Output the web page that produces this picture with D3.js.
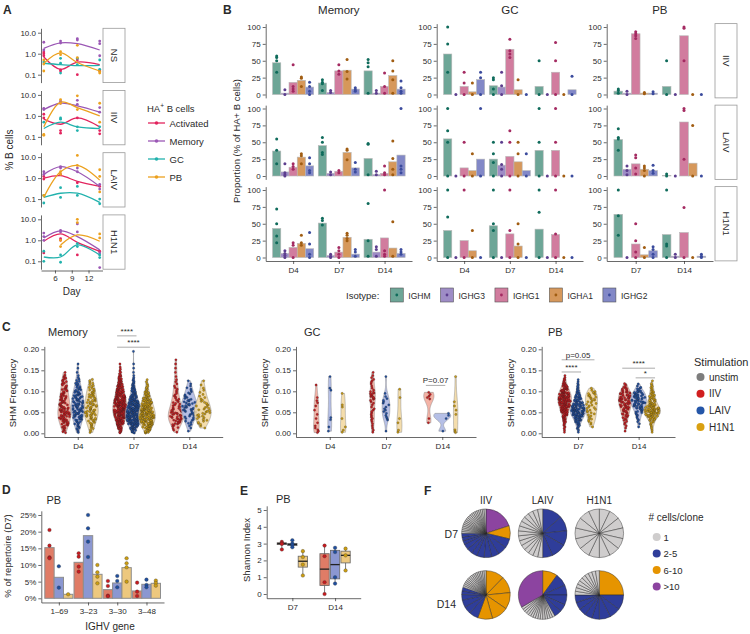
<!DOCTYPE html>
<meta charset="utf-8">
<script src="https://d3js.org/d3.v7.min.js"></script>
<style>
  body { margin: 0; background: #fff; }
</style>
<body>
<script>
// ---------------- data: panel A ----------------
const aFacets = ["NS", "IIV", "LAIV", "H1N1"];
const aDays = [4, 7, 10, 14];
const aCells = ["Activated", "Memory", "GC", "PB"];
// smoothed trend, facet -> cell -> day
const aTrend = [
  [[0.7, 0.18, 0.4, 0.3], [1.8, 3.3, 3.0, 1.5], [0.35, 0.3, 0.27, 0.28], [0.35, 1.1, 0.38, 0.15]],
  [[0.7, 0.4, 0.8, 0.3], [2.0, 4.0, 3.0, 1.5], [0.25, 0.5, 0.3, 0.25], [0.3, 4.5, 2.5, 1.0]],
  [[1.0, 1.3, 0.7, 0.4], [1.5, 3.5, 2.0, 0.4], [0.12, 0.19, 0.19, 0.07], [0.12, 2.0, 4.0, 0.8]],
  [[0.9, 2.0, 0.8, 0.3], [1.3, 2.8, 1.5, 0.35], [0.16, 0.16, 0.6, 0.2], [null, 0.6, 1.8, 0.9]]
];
// replicate points, facet -> cell -> day -> values
const aPoints = [
  [[[1.2, 1.0, 0.8], [0.17, 0.15], [0.1, 0.5], [0.15]],
   [[3.5, 1.5], [4, 3.2], [5.2, 4.5], [4, 3, 0.8]],
   [[0.4], [0.6, 0.12, 0.35], [0.6, 0.3], [0.5, 0.18]],
   [[0.15, 0.32, 0.5], [1.25, 0.9], [0.65, 2.5], [0.14, 0.12]]],
  [[[1.2, 0.8], [0.2, 0.15], [0.8], [0.2, 0.14]],
   [[2.3, 2.0], [5, 4], [5.5, 3.5], [1.5, 2.5]],
   [[0.5], [0.8, 0.7], [0.3, 0.2], [0.3]],
   [[0.12, 0.13], [6, 4], [9, 2], [4, 0.5]]],
  [[[1.2, 0.9], [1.5], [0.6], [0.4]],
   [[2.0, 1.5], [3.5, 3.0], [3, 2], [0.5, 0.3]],
   [[0.15, 0.065], [0.35, 0.12], [0.4, 0.15], [0.1, 0.06]],
   [[0.15], [2.0, 1.5], [12, 4], [2.5, 1.2, 0.22]]],
  [[[0.25], [1.2, 1.0], [0.2], [0.3]],
   [[2.2, 1.5, 1.0], [3, 2.5], [6, 2.5], [0.25, 0.05]],
   [[0.3, 0.1], [0.09, 0.2], [0.5, 0.7], [0.2, 0.15]],
   [[], [1.0, 0.5], [10, 7], [2, 1.3]]]
];

// ---------------- data: panel B ----------------
const bTypes = ["Memory", "GC", "PB"];
const bRows = ["IIV", "LAIV", "H1N1"];
const bDays = [["D4", "D7", "D14"], ["D4", "D7", "D14"], ["D7", "D14"]];
const isotypes = ["IGHM", "IGHG3", "IGHG1", "IGHA1", "IGHG2"];
// bar heights, row -> day -> isotype
const memBars = [
  [[47, 2, 18, 21, 11], [17, 3, 35, 36, 8], [35, 2, 12, 28, 8]],
  [[37, 6, 13, 28, 15], [45, 4, 7, 35, 12], [26, 2, 4, 21, 31]],
  [[43, 6, 15, 21, 13], [51, 3, 8, 30, 5], [27, 8, 29, 14, 6]]
];
const memDots = [
  [[[57, 55, 50, 33], [7, 0], [44, 12, 8, 5], [26, 24, 12], [18, 12, 5, 0]],
   [[22, 18, 16, 6], [6, 3], [44, 35, 30], [52, 34, 23], [10, 7, 5]],
   [[52, 47, 41, 2], [6, 2], [32, 12, 2], [50, 35, 22, 2], [20, 10, 5, 2]]],
  [[[55, 38, 18], [18, 5, 2, 0], [18, 14, 10], [33, 30, 18], [27, 18, 8, 5]],
   [[57, 50, 35, 32], [6, 2], [8, 5], [40, 38, 24], [20, 10, 6]],
   [[48, 47, 2], [7, 2], [15, 5, 2], [52, 26, 10, 2], [100, 15, 10, 5]]],
  [[[72, 50, 32, 22], [10, 6, 3, 0], [22, 18, 0], [33, 22, 18], [37, 20, 5, 0]],
   [[58, 55, 48], [5, 2, 0], [15, 10, 5, 0], [36, 33, 28, 25], [12, 8, 2]],
   [[80, 25, 2], [16, 12, 2], [100, 10, 5, 2], [53, 2], [12, 8, 5]]]
];
const gcBars = [
  [[60, 0, 12, 4, 22], [13, 11, 67, 7, 0], [12, 0, 33, 0, 7]],
  [[55, 0, 12, 8, 25], [25, 16, 29, 21, 8], [38, 0, 38, 0, 0]],
  [[40, 0, 25, 10, 0], [47, 0, 35, 17, 0], [42, 0, 34, 0, 0]]
];
const gcDots = [
  [[[100, 75, 33], [0], [33, 17, 0], [17, 0], [33, 25, 0]],
   [[25, 22, 8, 0], [33, 13, 0], [82, 65, 60, 55], [22, 0], [0]],
   [[50, 0], [0], [77, 50, 0], [0], [27, 0]]],
  [[[100, 67, 50, 0], [0], [50, 0], [33, 0], [100, 0]],
   [[50, 33, 20, 0], [50, 17, 10, 0], [67, 50, 0], [50, 33, 0], [33, 0]],
   [[100, 50, 0], [0], [100, 50, 0], [0], [0]]],
  [[[100, 60, 0], [0], [100, 0], [40, 0], [0]],
   [[100, 50, 40, 0], [0], [100, 40, 0], [50, 20, 0], [0]],
   [[100, 67, 0], [0], [100, 35, 0], [0], [0]]]
];
const pbBars = [
  [[5, 2, 90, 2, 2], [12, 0, 87, 0, 0]],
  [[54, 10, 18, 10, 8], [1, 0, 80, 19, 0]],
  [[64, 0, 20, 4, 10], [34, 2, 37, 0, 2]]
];
const pbDots = [
  [[[8, 6, 2], [5, 0], [93, 90, 87, 83], [3, 1], [4, 1]],
   [[50, 0], [0], [100, 98, 50], [0], [0]]],
  [[[70, 57, 55, 38], [15, 8, 2], [31, 27, 12, 3], [15, 12, 8, 0], [16, 8, 4]],
   [[3, 0], [0], [100, 97, 25], [75, 0], [0]]],
  [[[100, 62, 33], [0], [50, 25, 8, 0], [15, 0], [16, 12, 5, 0]],
   [[100, 20, 17, 0], [5, 0], [74, 0], [0], [5, 2, 0]]]
];

// ---------------- data: panel C (cells per 0.01 SHM bin, starting at 0) ----------------
const cStims = ["IIV", "LAIV", "H1N1"];
const cMemoryBins = [
  [[4, 6, 9, 11, 12, 12, 10, 9, 8, 7, 6, 5, 5, 4, 1],
   [3, 5, 7, 9, 11, 12, 12, 11, 10, 9, 7, 5, 4, 2, 1, 1, 1],
   [3, 4, 6, 8, 10, 10, 9, 8, 7, 7, 5, 4, 3]],
  [[6, 12, 20, 28, 34, 38, 36, 32, 28, 22, 18, 14, 10, 6, 3, 2, 1],
   [8, 18, 28, 34, 36, 34, 28, 22, 16, 12, 8, 6, 4, 2, 1, 1, 1, 0, 0, 1],
   [10, 16, 22, 26, 26, 24, 20, 16, 12, 8, 5, 3, 2]],
  [[2, 4, 8, 10, 10, 8, 6, 5, 4, 3, 3, 2, 2, 1, 1, 1, 1, 1],
   [1, 2, 4, 5, 6, 8, 8, 7, 5, 4, 3, 2, 1],
   [0, 2, 4, 5, 6, 6, 5, 4, 3, 2, 2, 1, 1]]
];
const cGcBins = [
  [[3, 2, 1, 1, 1, 1, 1, 2, 1, 0, 0, 1],
   [1, 1, 0, 2, 0, 0, 0, 0, 0, 0, 2, 0, 0, 1],
   [2, 1, 0, 1, 0, 0, 2, 0, 0, 1]],
  [[2, 2, 2, 3, 3, 3, 2, 3, 6, 6, 2, 2, 3, 2, 1],
   [1, 0, 0, 3, 2, 3, 2, 3, 2, 1, 0, 0, 0, 1],
   [2, 0, 1, 1, 0, 0, 0, 0, 1, 0, 1]],
  [[0, 0, 1, 1, 0, 0, 0, 0, 3, 2],
   [1, 0, 0, 1, 2],
   [3, 0, 0, 0, 1, 1, 1, 1, 0, 0, 0, 0, 0, 1]]
];
const cPbBins = [
  [[2, 3, 5, 8, 12, 18, 24, 28, 30, 26, 18, 10, 5, 2],
   [2, 4, 8, 14, 22, 26, 20, 14, 10, 6, 4, 3, 2],
   [0, 1, 3, 4, 4, 5, 5, 5, 6, 6, 2]],
  [[1, 2, 3, 5, 7, 9, 11, 13, 14, 12, 7, 3],
   [0, 1, 2, 3, 5, 8, 12, 14, 14, 12, 6, 2],
   [2, 3, 5, 10, 20, 24, 16, 10, 8, 6, 4, 3, 1]]
];
// significance: panel, day, from stim, to stim, SHM level, label
const cSig = [
  [0, "D7", 0, 1, 0.232, "****"],
  [0, "D7", 0, 2, 0.205, "****"],
  [1, "D14", 0, 1, 0.114, "P=0.07"],
  [2, "D7", 0, 1, 0.146, "****"],
  [2, "D7", 0, 2, 0.175, "p=0.05"],
  [2, "D14", 0, 2, 0.155, "****"],
  [2, "D14", 1, 2, 0.132, "*"]
];
const stimNames = ["unstim", "IIV", "LAIV", "H1N1"];

// ---------------- data: panel D ----------------
const dGenes = ["1–69", "3–23", "3–30", "3–48"];
const dBars = [[15.2, 6.3, 1.2], [10.8, 18.8, 7.2], [2.6, 4.6, 9.2], [2.2, 4.2, 4.5]];
const dDots = [
  [[20.5, 15.8, 12.3, 12.0], [9.6, 3.2], [1.2]],
  [[13.5, 12.5, 9.5, 8.0], [25, 21, 17, 12.4], [10, 7.8, 6.5, 4.5]],
  [[5.2, 3.7, 0.8, 0.6], [6.7, 5.2, 3.3], [12, 10.5, 9.3, 5.0]],
  [[4.7, 2.0, 0.7], [5.6, 4.0, 3.3], [5.3, 4.6, 3.8]]
];

// ---------------- data: panel E ----------------
const eDays = ["D7", "D14"];
// [whisker low, q1, median, q3, whisker high]
const eBoxes = [
  [[2.65, 2.94, 3.0, 3.05, 3.1], [2.78, 2.88, 2.95, 3.0, 3.2], [1.1, 1.6, 1.95, 2.25, 2.55]],
  [[0, 0.5, 1.48, 2.4, 2.88], [0.62, 0.9, 1.75, 2.6, 2.75], [1.4, 1.85, 2.3, 2.55, 2.7]]
];
const eDots = [
  [[3.1, 3.02, 2.98, 2.65], [3.2, 3.0, 2.9, 2.78], [2.55, 2.2, 1.75, 1.1]],
  [[2.88, 2.25, 0.7, 0], [2.75, 2.5, 1.0, 0.62], [2.7, 2.3, 1.4]]
];

// ---------------- data: panel F (clone sizes, clockwise from 12 o'clock) ----------------
const fStims = ["IIV", "LAIV", "H1N1"];
const fDays = ["D7", "D14"];
const fClones = [
  [[16, 7, 5, 5, 4, 4, 4, 3, 3, 3, 2, 2, 2, 1, 1, 1, 1, 1, 1, 1, 1, 1, 1, 1, 1, 1, 1, 1, 1, 1, 1, 1, 1],
   [4, 3, 3, 3, 2, 1, 1, 1, 1, 1, 1, 1, 1, 1, 1, 1, 1, 1, 1, 1],
   [1, 1, 1, 1, 1, 1, 1, 1, 1, 1, 1, 1, 1, 1]],
  [[10, 9, 9, 9, 8, 5, 4, 4, 3, 2, 2, 1, 1, 1, 1, 1, 1, 1, 1, 1, 1, 1, 1, 1, 1, 1, 1],
   [6, 5, 4, 4, 3, 3, 1, 1, 1, 1, 1, 1, 1, 1, 1, 1, 1, 1, 1, 1, 1, 20],
   [10, 4, 3, 3, 2, 2, 2, 2, 2, 1, 1, 1, 1, 1, 1, 1, 1, 1, 1]]
];
const cloneBins = ["1", "2-5", "6-10", ">10"];

// ---------------- styles ----------------
const ink = "#2a2a2a";
const aColors = ["#e2245e", "#9b58b5", "#22b2ad", "#eca11f"];
const isoFill = ["#6da697", "#9e8cc6", "#d17c9e", "#d6985b", "#8288c7"];
const isoDot = ["#0f6b5b", "#5c3e8e", "#a42a61", "#a15d12", "#3b4b9d"];
const stimFill = ["#f2a697", "#a8b4e2", "#f2d79d"];
const stimPt = ["#c71b1f", "#1f4f9f", "#cb9d12"];
const stimBar = ["#e07c66", "#8b97d1", "#edc87e"];
const legendStim = ["#7d7d7d", "#d11f1f", "#2456a8", "#d9a011"];
const cloneCol = ["#cfcdcd", "#2f3d9a", "#e69400", "#8c44a0"];

const svg = d3.select("body").append("svg")
  .attr("width", 750).attr("height", 634)
  .style("font-family", "'Liberation Sans', Arial, Helvetica, sans-serif");

function txt(g, x, y, s, size, opt) {
  opt = opt || {};
  const t = g.append("text").attr("x", x).attr("y", y).text(s)
    .attr("font-size", size).attr("fill", opt.fill || ink)
    .attr("text-anchor", opt.anchor || "start");
  if (opt.weight) t.attr("font-weight", opt.weight);
  if (opt.mid) t.attr("dominant-baseline", "central");
  if (opt.rotate) t.attr("transform", `rotate(${opt.rotate},${x},${y})`);
  return t;
}
function axisStyle(g, fs) {
  g.attr("font-family", null).attr("font-size", fs || 8);
  g.select(".domain").attr("stroke", ink).attr("stroke-width", 0.7);
  g.selectAll(".tick line").attr("stroke", ink).attr("stroke-width", 0.7);
  g.selectAll(".tick text").attr("fill", ink);
}

// panel letters
txt(svg, 3, 14, "A", 12, { weight: "bold" });
txt(svg, 223, 14, "B", 12, { weight: "bold" });
txt(svg, 2, 331, "C", 12, { weight: "bold" });
txt(svg, 2, 494, "D", 12, { weight: "bold" });
txt(svg, 240, 495, "E", 12, { weight: "bold" });
txt(svg, 424, 495, "F", 12, { weight: "bold" });

// ================= Panel A =================
const aX = d3.scaleLinear([3.5, 14.5], [41, 102.5]);
aFacets.forEach((f, i) => {
  const top = 28.3 + i * 62.2, bot = top + 54.3;
  const y = d3.scaleLog([0.042, 16.2], [bot, top]);
  const g = svg.append("g");
  g.append("g").attr("transform", "translate(41,0)")
    .call(d3.axisLeft(y).tickValues([0.1, 1, 10]).tickFormat(d3.format(".1f"))
      .tickSize(3).tickSizeOuter(0).tickPadding(2))
    .call(axisStyle);
  g.append("rect").attr("x", 103).attr("y", top).attr("width", 22).attr("height", bot - top)
    .attr("fill", "#fff").attr("stroke", "#9a9a9a").attr("stroke-width", 0.8);
  txt(g, 114, (top + bot) / 2, f, 9.5, { anchor: "middle", mid: true, rotate: 90 });
  aCells.forEach((c, k) => {
    const pts = aDays.map((d, j) => [d, aTrend[i][k][j]]).filter(p => p[1] != null);
    g.append("path")
      .attr("d", d3.line().x(p => aX(p[0])).y(p => y(p[1])).curve(d3.curveCatmullRom)(pts))
      .attr("fill", "none").attr("stroke", aColors[k]).attr("stroke-width", 1.3);
    aPoints[i][k].forEach((vals, j) => vals.forEach(v => {
      g.append("circle").attr("cx", aX(aDays[j])).attr("cy", y(v)).attr("r", 1.4).attr("fill", aColors[k]);
    }));
  });
});
svg.append("g").attr("transform", "translate(0,270.5)")
  .call(d3.axisBottom(aX).tickValues([6, 9, 12]).tickSize(3).tickSizeOuter(0).tickPadding(2))
  .call(axisStyle);
txt(svg, 71.7, 295, "Day", 10, { anchor: "middle" });
txt(svg, 9, 150, "% B cells", 10, { anchor: "middle", mid: true, rotate: -90 });
// legend A
const aLeg = svg.append("g");
aLeg.append("text").attr("x", 147).attr("y", 111.5).attr("font-size", 9.5).attr("fill", ink)
  .call(t => { t.append("tspan").text("HA"); t.append("tspan").text("+").attr("font-size", 6.5).attr("dy", -3.5);
               t.append("tspan").text(" B cells").attr("dy", 3.5); });
aCells.forEach((c, k) => {
  const yy = 123 + k * 18;
  aLeg.append("line").attr("x1", 148).attr("x2", 165).attr("y1", yy).attr("y2", yy)
    .attr("stroke", aColors[k]).attr("stroke-width", 1.3);
  aLeg.append("circle").attr("cx", 156.5).attr("cy", yy).attr("r", 1.8).attr("fill", aColors[k]);
  txt(aLeg, 169.5, yy, c, 9.5, { mid: true });
});

// ================= Panel B =================
const bXRanges = [[265.7, 412], [436.7, 583], [606.7, 713]];
const bZero = [94.5, 176, 257.5];
const bBarsAll = [memBars, gcBars, pbBars];
const bDotsAll = [memDots, gcDots, pbDots];
bTypes.forEach((t, c) => {
  const xr = bXRanges[c];
  const x = d3.scalePoint(bDays[c], xr).padding(0.6);
  const bw = x.step() * 0.9 / 5;
  txt(svg, (xr[0] + xr[1]) / 2, 14, t, 11.5, { anchor: "middle" });
  bRows.forEach((r, i) => {
    const y = d3.scaleLinear([0, 100], [bZero[i], bZero[i] - 67.5]);
    const yAx = d3.scaleLinear([-5, 105], [y(-5), y(105)]);
    const g = svg.append("g");
    g.append("g").attr("transform", `translate(${xr[0]},0)`)
      .call(d3.axisLeft(yAx).tickValues([0, 25, 50, 75, 100]).tickSize(3).tickSizeOuter(0).tickPadding(2))
      .call(axisStyle);
    bDays[c].forEach((d, j) => {
      isotypes.forEach((iso, k) => {
        const cx = x(d) + (k - 2) * bw;
        const v = bBarsAll[c][i][j][k];
        g.append("rect").attr("x", cx - bw / 2).attr("width", bw)
          .attr("y", y(v)).attr("height", y(0) - y(v))
          .attr("fill", isoFill[k]).attr("stroke", "#b8b8b8").attr("stroke-width", 0.6);
        bDotsAll[c][i][j][k].forEach(v2 => {
          g.append("circle").attr("cx", cx).attr("cy", y(v2)).attr("r", 1.5).attr("fill", isoDot[k]);
        });
      });
    });
    if (c === 2) {
      g.append("rect").attr("x", 715).attr("y", y(105)).attr("width", 22).attr("height", y(-5) - y(105))
        .attr("fill", "#fff").attr("stroke", "#9a9a9a").attr("stroke-width", 0.8);
      txt(g, 726, (y(105) + y(-5)) / 2, r, 9.5, { anchor: "middle", mid: true, rotate: 90 });
    }
  });
  svg.append("g").attr("transform", "translate(0,261)")
    .call(d3.axisBottom(x).tickSize(3).tickSizeOuter(0).tickPadding(3))
    .call(axisStyle);
});
txt(svg, 236, 141, "Proportion (% of HA+ B cells)", 9.5, { anchor: "middle", mid: true, rotate: -90 });
// legend B
{
  const g = svg.append("g");
  const lbl = txt(g, 346, 298.5, "Isotype:", 9.5);
  let cx = 346 + lbl.node().getComputedTextLength() + 11;
  isotypes.forEach((iso, k) => {
    g.append("rect").attr("x", cx).attr("y", 288).attr("width", 13).attr("height", 14)
      .attr("fill", isoFill[k]).attr("stroke", "#555").attr("stroke-width", 0.6);
    g.append("circle").attr("cx", cx + 6.5).attr("cy", 295).attr("r", 1.4).attr("fill", isoDot[k]);
    const t = txt(g, cx + 18, 298.5, iso, 8.5);
    cx += 18 + t.node().getComputedTextLength() + 10;
  });
}

// ================= Panel C =================
const cY = d3.scaleLinear([0, 0.2], [433.3, 349.3]);
const cYAx = d3.scaleLinear([-0.009, 0.207], [cY(-0.009), cY(0.207)]);
const cLayout = [
  { name: "Memory", days: ["D4", "D7", "D14"], bins: cMemoryBins, x0: 44.3, x1: 222.7, tx: 48, ytx: 12 },
  { name: "GC", days: ["D4", "D7", "D14"], bins: cGcBins, x0: 296, x1: 476, tx: 304, ytx: 264 },
  { name: "PB", days: ["D7", "D14"], bins: cPbBins, x0: 541.7, x1: 675, tx: 548, ytx: 510 }
];
function binValues(bins) {
  const v = [];
  bins.forEach((n, b) => { for (let i = 0; i < n; i++) v.push(0.01 * b + 0.01 * (i + 0.5) / n); });
  return v;
}
function bwNrd0(v) {
  const s = v.slice().sort(d3.ascending);
  const sd = d3.deviation(s) || 0.01;
  const iqr = d3.quantile(s, 0.75) - d3.quantile(s, 0.25);
  let lo = Math.min(sd, iqr / 1.34);
  if (!(lo > 0)) lo = sd;
  return 0.9 * lo * Math.pow(s.length, -0.2);
}
function density(v, bw, t) {
  let s = 0;
  for (const x of v) { const z = (t - x) / bw; s += Math.exp(-0.5 * z * z); }
  return s / (v.length * bw * Math.sqrt(2 * Math.PI));
}
// fixed hash used to spread points sideways inside a violin
function spread(n, k) {
  const s = Math.sin(n * 12.9898 + k * 78.233) * 43758.5453;
  return s - Math.floor(s);
}
const dodge = 13.4, maxHalf = 8.5;
cLayout.forEach((p, pi) => {
  const x = d3.scalePoint(p.days, [p.x0, p.x1]).padding(0.6);
  const g = svg.append("g");
  txt(g, p.tx, 336, p.name, 11);
  txt(g, p.ytx, 393, "SHM Frequency", 9.5, { anchor: "middle", mid: true, rotate: -90 });
  g.append("g").attr("transform", `translate(${p.x0},0)`)
    .call(d3.axisLeft(cYAx).tickValues([0, 0.05, 0.1, 0.15, 0.2]).tickFormat(d3.format(".2f"))
      .tickSize(3).tickSizeOuter(0).tickPadding(2))
    .call(axisStyle);
  g.append("g").attr("transform", "translate(0,437)")
    .call(d3.axisBottom(x).tickSize(3).tickSizeOuter(0).tickPadding(3))
    .call(axisStyle);
  const vs = p.bins.map(day => day.map(b => {
    const v = binValues(b);
    const o = { v, bw: bwNrd0(v), lo: d3.min(v), hi: d3.max(v) };
    o.grid = d3.range(65).map(i => o.lo + (o.hi - o.lo) * i / 64);
    o.d = o.grid.map(t => density(v, o.bw, t));
    return o;
  }));
  const maxD = d3.max(vs.flat(), o => d3.max(o.d));
  vs.forEach((day, j) => day.forEach((o, k) => {
    const cx = x(p.days[j]) + (k - 1) * dodge;
    const hw = d => maxHalf * d / maxD;
    const pts = o.grid.map((t, i) => [t, hw(o.d[i])]);
    g.append("path")
      .attr("d", d3.area().y(q => cY(q[0])).x0(q => cx - q[1]).x1(q => cx + q[1])(pts))
      .attr("fill", stimFill[k]).attr("fill-opacity", 0.85)
      .attr("stroke", "#8a8a8a").attr("stroke-width", 0.5);
    o.v.forEach((val, n) => {
      const u = spread(n + 1, j * 3 + k + pi * 10);
      const px = cx + (2 * u - 1) * 0.85 * hw(density(o.v, o.bw, val));
      g.append("circle").attr("cx", px).attr("cy", cY(val)).attr("r", 1.15)
        .attr("fill", stimPt[k]).attr("stroke", "#222").attr("stroke-width", 0.25);
    });
  }));
  cSig.filter(s => s[0] === pi).forEach(s => {
    const xa = x(s[1]) + (s[2] - 1) * dodge - 3, xb = x(s[1]) + (s[3] - 1) * dodge + 3;
    g.append("line").attr("x1", xa).attr("x2", xb).attr("y1", cY(s[4])).attr("y2", cY(s[4]))
      .attr("stroke", "#888").attr("stroke-width", 0.7);
    txt(g, (xa + xb) / 2, cY(s[4]) - 2, s[5], 8, { anchor: "middle" });
  });
});
// stimulation legend
{
  const g = svg.append("g");
  txt(g, 694, 366, "Stimulation", 11);
  stimNames.forEach((s, k) => {
    const yy = 377 + k * 16.7;
    g.append("circle").attr("cx", 700.5).attr("cy", yy).attr("r", 4).attr("fill", legendStim[k]);
    txt(g, 709, yy, s, 10, { mid: true });
  });
}

// ================= Panel D =================
{
  const g = svg.append("g");
  const x = d3.scalePoint(dGenes, [41.3, 164]).padding(0.6);
  const y = d3.scaleLinear([0, 25], [598.3, 515]);
  const yAx = d3.scaleLinear([-1.25, 26.25], [y(-1.25), y(26.25)]);
  const bw = x.step() * 0.32;
  txt(g, 46.5, 504, "PB", 11);
  g.append("g").attr("transform", "translate(41.3,0)")
    .call(d3.axisLeft(yAx).tickValues([0, 5, 10, 15, 20, 25]).tickFormat(d => d + "%")
      .tickSize(3).tickSizeOuter(0).tickPadding(2))
    .call(axisStyle);
  dGenes.forEach((gene, i) => {
    dBars[i].forEach((v, k) => {
      const cx = x(gene) + (k - 1) * bw;
      g.append("rect").attr("x", cx - bw / 2).attr("width", bw).attr("y", y(v)).attr("height", y(0) - y(v))
        .attr("fill", stimBar[k]).attr("stroke", "#8e8e8e").attr("stroke-width", 1);
      dDots[i][k].forEach(v2 => {
        g.append("circle").attr("cx", cx).attr("cy", y(v2)).attr("r", 1.8)
          .attr("fill", stimPt[k]).attr("stroke", "#333").attr("stroke-width", 0.3);
      });
    });
  });
  g.append("g").attr("transform", `translate(0,${y(-1.25)})`)
    .call(d3.axisBottom(x).tickSize(3).tickSizeOuter(0).tickPadding(3))
    .call(axisStyle);
  txt(g, 110, 630, "IGHV gene", 10, { anchor: "middle" });
  txt(g, 7.5, 556, "% of repertoire (D7)", 9.5, { anchor: "middle", mid: true, rotate: -90 });
}

// ================= Panel E =================
{
  const g = svg.append("g");
  const x = d3.scalePoint(eDays, [266.7, 360.7]).padding(0.6);
  const y = d3.scaleLinear([0, 5], [594, 510]);
  const yAx = d3.scaleLinear([-0.25, 5.25], [y(-0.25), y(5.25)]);
  const off = 10.5, bw = 9.3;
  txt(g, 276, 503, "PB", 11);
  g.append("g").attr("transform", "translate(266.7,0)")
    .call(d3.axisLeft(yAx).tickValues([0, 1, 2, 3, 4, 5]).tickFormat(d3.format("d"))
      .tickSize(3).tickSizeOuter(0).tickPadding(2))
    .call(axisStyle);
  eDays.forEach((d, i) => eBoxes[i].forEach((b, k) => {
    const cx = x(d) + (k - 1) * off;
    g.append("line").attr("x1", cx).attr("x2", cx).attr("y1", y(b[0])).attr("y2", y(b[4]))
      .attr("stroke", "#444").attr("stroke-width", 0.7);
    g.append("rect").attr("x", cx - bw / 2).attr("width", bw).attr("y", y(b[3])).attr("height", y(b[1]) - y(b[3]))
      .attr("fill", stimBar[k]).attr("stroke", "#666").attr("stroke-width", 0.8);
    g.append("line").attr("x1", cx - bw / 2).attr("x2", cx + bw / 2).attr("y1", y(b[2])).attr("y2", y(b[2]))
      .attr("stroke", "#222").attr("stroke-width", 1.3);
    eDots[i][k].forEach(v => {
      g.append("circle").attr("cx", cx).attr("cy", y(v)).attr("r", 1.8)
        .attr("fill", stimPt[k]).attr("stroke", "#333").attr("stroke-width", 0.3);
    });
  }));
  g.append("g").attr("transform", `translate(0,${y(-0.25)})`)
    .call(d3.axisBottom(x).tickSize(3).tickSizeOuter(0).tickPadding(3))
    .call(axisStyle);
  txt(g, 246.5, 550, "Shannon Index", 9.5, { anchor: "middle", mid: true, rotate: -90 });
}

// ================= Panel F =================
{
  const g = svg.append("g");
  const x = d3.scalePoint(fStims, [486, 599.3]);
  const y = d3.scalePoint(fDays, [533.3, 595]);
  const pie = d3.pie().sort(null).value(d => d);
  const arc = d3.arc().innerRadius(0).outerRadius(24.3);
  const col = n => n === 1 ? cloneCol[0] : n <= 5 ? cloneCol[1] : n <= 10 ? cloneCol[2] : cloneCol[3];
  fStims.forEach(s => txt(g, x(s), 504, s, 10, { anchor: "middle" }));
  txt(g, 458, y("D7") + 1, "D7", 10.5, { anchor: "end", mid: true });
  txt(g, 456, y("D14") + 9, "D14", 10.5, { anchor: "end", mid: true });
  fClones.forEach((row, i) => row.forEach((cl, j) => {
    const pg = g.append("g").attr("transform", `translate(${x(fStims[j])},${y(fDays[i])})`);
    pg.selectAll("path").data(pie(cl)).join("path").attr("d", arc)
      .attr("fill", d => col(d.data)).attr("stroke", "#2a2a2a").attr("stroke-width", 0.45);
  }));
  txt(g, 648.5, 521, "# cells/clone", 10);
  cloneBins.forEach((c, k) => {
    const yy = 537 + k * 16.5;
    g.append("circle").attr("cx", 656.7).attr("cy", yy).attr("r", 4).attr("fill", cloneCol[k]);
    txt(g, 663.5, yy, c, 9.5, { mid: true });
  });
}
</script>
</body>
